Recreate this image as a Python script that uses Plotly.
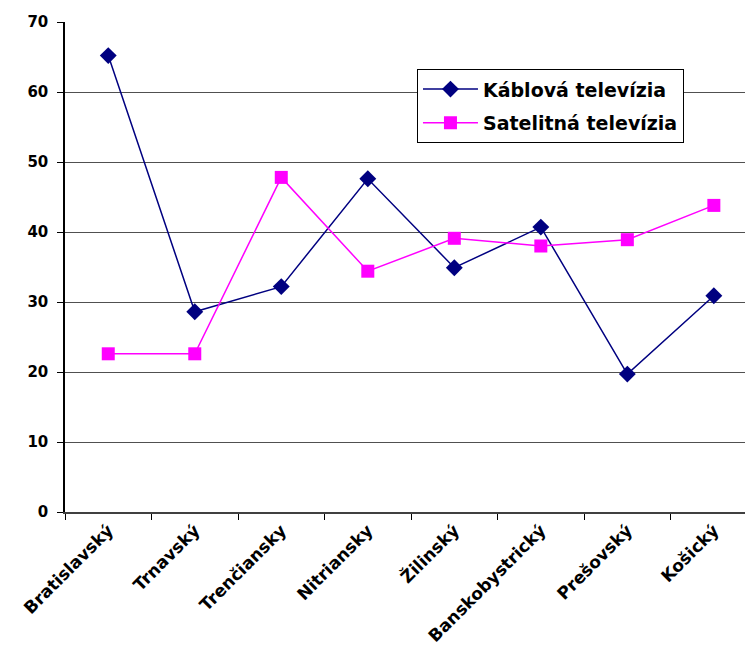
import plotly.graph_objects as go

# Regions of Slovakia and share of households (%) by TV reception type
regions = ["Bratislavský", "Trnavský", "Trenčiansky", "Nitriansky",
           "Žilinský", "Banskobystrický", "Prešovský", "Košický"]
kablova = [65.2, 28.6, 32.2, 47.6, 34.9, 40.7, 19.7, 30.9]
satelitna = [22.6, 22.6, 47.8, 34.4, 39.1, 38.0, 38.9, 43.8]
y_ticks = [0, 10, 20, 30, 40, 50, 60, 70]

FONT = "DejaVu Sans, Verdana, sans-serif"

fig = go.Figure()
fig.add_trace(go.Scatter(
    x=regions, y=kablova, name="Káblová televízia", mode="lines+markers",
    legendgroup="kab",
    line=dict(color="#000080", width=1.5),
    marker=dict(symbol="diamond", size=13, color="#000080"),
))
fig.add_trace(go.Scatter(
    x=regions, y=satelitna, name="Satelitná televízia", mode="lines+markers",
    legendgroup="sat",
    line=dict(color="#FF00FF", width=1.5),
    marker=dict(symbol="square", size=13, color="#FF00FF"),
))

fig.update_layout(
    width=745, height=651, autosize=False,
    margin=dict(l=65, r=0, t=22, b=139),
    paper_bgcolor="white", plot_bgcolor="white",
    font=dict(family=FONT, color="black"),
    legend=dict(
        x=0.5176, y=0.9036, xanchor="left", yanchor="top",
        bordercolor="black", borderwidth=1, bgcolor="white",
        font=dict(family=FONT, size=19, weight="bold", color="black"),
        itemwidth=55, tracegroupgap=6, traceorder="grouped",
    ),
    xaxis=dict(
        type="category", range=[-0.5, 7.36], automargin=False,
        tickson="boundaries", ticks="outside", ticklen=6, tickcolor="black",
        tickangle=-45,
        tickfont=dict(family=FONT, size=17, weight="bold", color="black"),
        showline=True, linecolor="#404040", linewidth=1.5,
        showgrid=False, zeroline=False,
    ),
    yaxis=dict(
        range=[0, 70], tickvals=y_ticks, automargin=False,
        ticks="outside", ticklen=6, tickcolor="black",
        ticklabelstandoff=6,
        tickfont=dict(family=FONT, size=15, weight="bold", color="black"),
        showline=True, linecolor="black", linewidth=1.5,
        showgrid=True, gridcolor="#505050", gridwidth=1.2,
        zeroline=False,
    ),
)

fig.write_html("out.html")
